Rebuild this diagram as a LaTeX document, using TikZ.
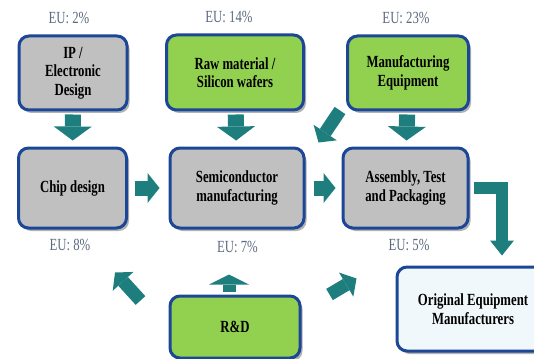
\documentclass[tikz,border=0pt]{standalone}
\usepackage{fontspec}
\setmainfont{Liberation Serif}[FakeStretch=0.75]
\usetikzlibrary{arrows.meta,shadows}

\definecolor{boxBlue}{RGB}{28,70,150}
\definecolor{boxGray}{RGB}{192,192,192}
\definecolor{boxGreen}{RGB}{146,208,80}
\definecolor{oemFill}{RGB}{240,248,251}
\definecolor{arrowTeal}{RGB}{30,126,126}
\definecolor{euGray}{RGB}{92,106,128}

\begin{document}
\begin{tikzpicture}[x=1pt,y=-1pt]

  \tikzstyle{box}=[shape=rectangle, rounded corners=10pt, draw=boxBlue, line width=3pt, inner sep=0pt, align=center, font={\fontsize{17}{18.5}\selectfont\bfseries}, drop shadow={shadow xshift=2.5pt, shadow yshift=-3pt, fill=black, opacity=0.3}]

  \tikzstyle{euLabel}=[text=euGray, inner sep=0pt, font={\fontsize{17}{18}\selectfont}]

  \tikzstyle{blockArrow}=[draw=arrowTeal, line width=16pt, line join=miter, -{Triangle[width=38pt,length=14pt,line width=0pt]}]

  \tikzstyle{slimArrow}=[draw=arrowTeal, line width=13pt, line join=miter, -{Triangle[width=28pt,length=12pt,line width=0pt]}]

\clip (0,0) rectangle (534,358);

%% boxes of the chain

\node (IP)[box, fill=boxGray, minimum width=108, minimum height=74] at (73,73) {IP /\\Electronic\\Design};

\node (Raw)[box, fill=boxGreen, minimum width=137, minimum height=75] at (235,72.5) {Raw material /\\Silicon wafers};

\node (Manuf)[box, fill=boxGreen, minimum width=121, minimum height=74] at (408,73) {Manufacturing\\Equipment};

\node (Chip)[box, fill=boxGray, minimum width=108, minimum height=80] at (72.5,188) {Chip design};

\node (Semi)[box, fill=boxGray, minimum width=134, minimum height=80] at (237,188) {Semiconductor\\manufacturing};

\node (Assembly)[box, fill=boxGray, minimum width=125, minimum height=80] at (405.5,188) {Assembly, Test\\and Packaging};

\node (RD)[box, fill=boxGreen, minimum width=130, minimum height=62] at (235,327) {R\&D};

\node (OEM)[box, fill=oemFill, minimum width=152, minimum height=84] at (473,309) {Original Equipment\\Manufacturers};

%% EU shares

\node (euIP)[euLabel] at (69,18) {EU: 2\%};

\node (euRaw)[euLabel] at (229,17) {EU: 14\%};

\node (euManuf)[euLabel] at (406,18) {EU: 23\%};

\node (euChip)[euLabel] at (70,245) {EU: 8\%};

\node (euSemi)[euLabel] at (237.5,247) {EU: 7\%};

\node (euAssembly)[euLabel] at (409,245) {EU: 5\%};

%% flows

\path
	(IP) edge[blockArrow, shorten <=3pt, shorten >=6pt] (Chip)

	(Raw) edge[blockArrow, shorten <=3pt, shorten >=6pt] (Semi)

	(Manuf) edge[blockArrow, shorten <=3pt, shorten >=6pt] (Assembly)

	(Chip) edge[blockArrow, line width=15pt, -{Triangle[width=30pt,length=12pt,line width=0pt]}, shorten <=6.5pt, shorten >=9pt] (Semi)

	(Semi) edge[blockArrow, line width=15pt, -{Triangle[width=30pt,length=12pt,line width=0pt]}, shorten <=8pt, shorten >=6pt] (Assembly)
;

\path
	([shift={(-6,-1)}]Manuf.south west) edge[slimArrow] ([shift={(13,-4)}]Semi.north east)

	([shift={(-28,6)}]RD.north west) edge[slimArrow] ([shift={(42.5,43)}]Chip.south)

	([shift={(-6,-3)}]RD.north) edge[slimArrow, -{Triangle[width=40pt,length=10pt,line width=0pt]}] ([shift={(-8,45)}]Semi.south)

	([shift={(28,0)}]RD.north east) edge[slimArrow] ([shift={(15,49)}]Assembly.south west)
;

\draw[slimArrow, line width=12pt, -{Triangle[width=24pt,length=15pt,line width=0pt]}]
	([xshift=4pt]Assembly.east) -| ([shift={(29,-10)}]OEM.north);

\end{tikzpicture}
\end{document}
